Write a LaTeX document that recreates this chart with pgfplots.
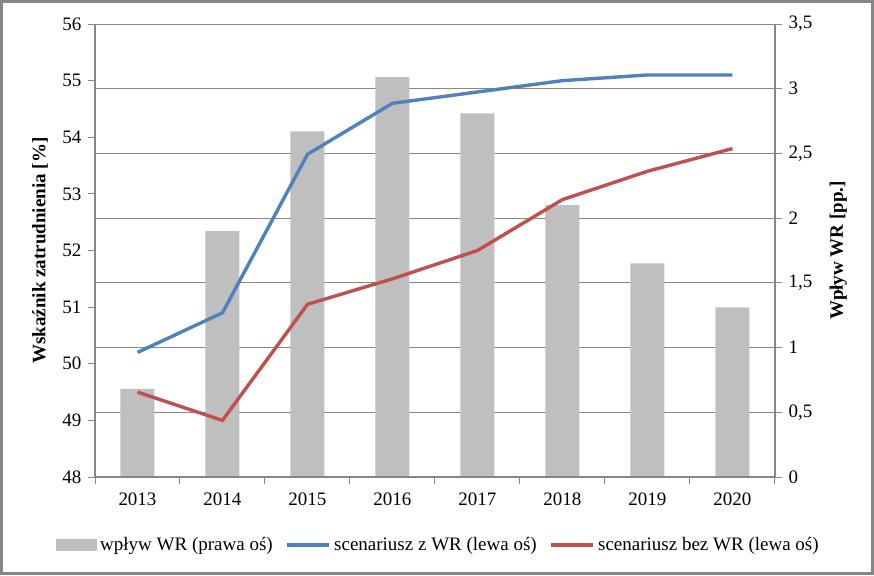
\documentclass[border=0pt]{standalone}
\usepackage{pgfplots}
\pgfplotsset{compat=1.18}
\usepackage{fontspec}
\setmainfont{Liberation Serif}

\definecolor{barfill}{RGB}{191,191,191}
\definecolor{wrblue}{RGB}{79,129,189}
\definecolor{wrred}{RGB}{192,80,77}
\definecolor{axgray}{RGB}{134,134,134}

\pgfplotsset{
  lineleg/.style={legend image code/.code={\draw[##1] (0pt,0pt) -- (21pt,0pt);}},
  barleg/.style={legend image code/.code={\fill[barfill] (0pt,-2.75pt) rectangle (20pt,2.75pt);}},
  common/.style={
    at={(47.5pt,49pt)}, anchor=south west,
    scale only axis, width=340pt, height=226.5pt,
    xmin=-0.5, xmax=7.5,
    tick align=outside, major tick length=3.5pt,
    every tick/.style={axgray, line width=0.5pt},
    axis line style={axgray, line width=0.6pt},
    /pgf/number format/assume math mode=true,
    label style={font=\fontsize{9.5}{11}\selectfont\bfseries},
  }
}

\begin{document}
\fontsize{9.5}{11}\selectfont
\begin{tikzpicture}
\useasboundingbox (0,0) rectangle (437pt,287.5pt);
\fill[white] (0,0) rectangle (437pt,287.5pt);

% right axis: bars
\begin{axis}[common,
  axis x line=none, axis y line*=right,
  ymin=0, ymax=3.5,
  ytick={0,0.5,1,1.5,2,2.5,3,3.5},
  yticklabel style={/pgf/number format/use comma},
  ymajorgrids, grid style={axgray, line width=0.5pt},
  ylabel={Wpływ WR [pp.]},
  ylabel style={at={(axis description cs:1.093,0.5)}, anchor=center},
]
\addplot[ybar, bar width=0.4, fill=barfill, draw=none]
coordinates {(0,0.68) (1,1.90) (2,2.67) (3,3.09) (4,2.81) (5,2.10) (6,1.65) (7,1.31)};
\end{axis}

% left axis: lines
\begin{axis}[common,
  axis x line*=bottom, axis y line*=left,
  ymin=48, ymax=56,
  ytick={48,49,50,51,52,53,54,55,56},
  xtick={-0.5,0.5,1.5,2.5,3.5,4.5,5.5,6.5,7.5},
  xticklabels={2013,2014,2015,2016,2017,2018,2019,2020,{}},
  xticklabel style={xshift=21.25pt, yshift=-1pt},
  ylabel={Wskaźnik zatrudnienia [\%]},
  ylabel style={at={(axis description cs:-0.081,0.5)}, anchor=center},
  legend style={at={(axis description cs:0.506,-0.15)}, anchor=center,
    draw=none, fill=none, legend columns=3,
    /tikz/every even column/.append style={column sep=5pt},
    nodes={inner sep=1.5pt}},
  legend cell align=left,
]
\addlegendimage{barleg}
\addlegendentry{wpływ WR (prawa oś)}
\addplot[wrblue, line width=1.7pt, lineleg]
coordinates {(0,50.2) (1,50.9) (2,53.7) (3,54.6) (4,54.8) (5,55.0) (6,55.1) (7,55.1)};
\addlegendentry{scenariusz z WR (lewa oś)}
\addplot[wrred, line width=1.7pt, lineleg]
coordinates {(0,49.5) (1,49.0) (2,51.05) (3,51.5) (4,52.0) (5,52.9) (6,53.4) (7,53.8)};
\addlegendentry{scenariusz bez WR (lewa oś)}
\end{axis}

\draw[axgray, line width=1.5pt] (0.75pt,0.75pt) rectangle (436.25pt,286.75pt);
\end{tikzpicture}
\end{document}
